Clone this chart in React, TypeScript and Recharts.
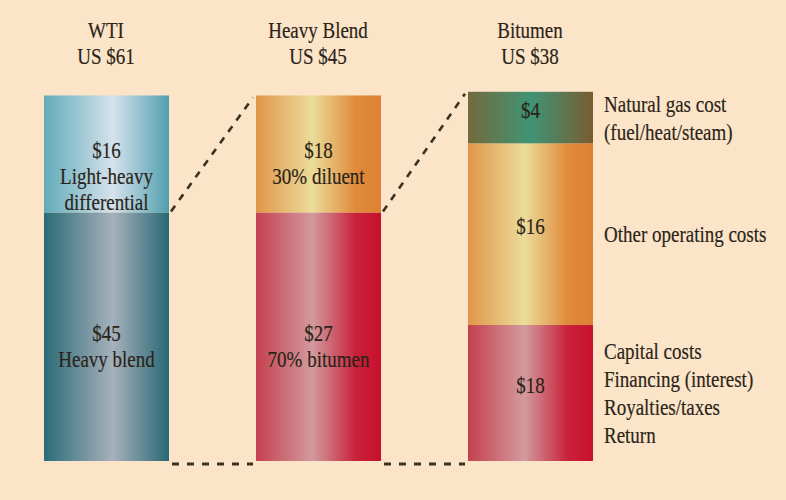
import React from "react";
import { BarChart, Bar, XAxis, YAxis } from "recharts";

// ---- data ----
const categories = ["WTI", "Heavy Blend", "Bitumen"];
const prices = ["US $61", "US $45", "US $38"];

// dollar values shown in each segment
const bottomValues = [45, 27, 18];
const middleValues = [16, 18, 16];
const topValues = [0, 0, 4];

// drawn height of each segment (share of a full bar)
const bottomShare = [68, 68, 37.2];
const middleShare = [32, 32, 49.7];
const topShare = [0, 0, 14.1];

// text inside the segments
const bottomNotes = [["Heavy blend"], ["70% bitumen"], []];
const middleNotes = [["Light-heavy", "differential"], ["30% diluent"], []];
const topNotes = [[], [], []];

// text to the right of the segments
const bottomSide = [[], [], ["Capital costs", "Financing (interest)", "Royalties/taxes", "Return"]];
const middleSide = [[], [], ["Other operating costs"]];
const topSide = [[], [], ["Natural gas cost", "(fuel/heat/steam)"]];

// ---- styles ----
const bottomFills = ["url(#gTealDark)", "url(#gRed)", "url(#gRed)"];
const middleFills = ["url(#gTealLight)", "url(#gOrange)", "url(#gOrange)"];
const topFills = ["url(#gGreen)", "url(#gGreen)", "url(#gGreen)"];

const FONT = "'Liberation Serif', 'Times New Roman', serif";
const INK = "#2a2318";
const BG = "#fbe4c7";
const DASH = "#3a3325";

const rows = categories.map((name, i) => ({
  name,
  price: prices[i],
  bottom: bottomShare[i],
  middle: middleShare[i],
  top: topShare[i],
}));

const store: Record<string, { x: number; y: number; width: number; height: number }> = {};

function T(props: { x: number; y: number; anchor?: string; children: React.ReactNode }) {
  return (
    <text
      x={0}
      y={0}
      transform={`translate(${props.x},${props.y}) scale(1,1.18)`}
      textAnchor={props.anchor || "middle"}
      fontFamily={FONT}
      fontSize={19}
      fill={INK}
      stroke={INK}
      strokeWidth={0.15}
    >
      {props.children}
    </text>
  );
}

function makeShape(
  level: "bottom" | "middle" | "top",
  fills: string[],
  values: number[],
  notes: string[][],
  side: string[][]
) {
  return (props: any) => {
    const { x, y, width, height, index, payload } = props;
    if (!height || height <= 0) return <g />;
    const geom = { x, y, width, height };
    store[`${level}-${index}`] = geom;
    const isUpper =
      level === "top" || (level === "middle" && !(payload && payload.top > 0));
    const parts: React.ReactNode[] = [];
    parts.push(
      <rect key="r" x={x} y={y} width={width} height={height} fill={fills[index]} />
    );
    // connectors
    if (isUpper) {
      store[`upper-${index}`] = geom;
      const prev = store[`upper-${index - 1}`];
      if (index > 0 && prev) {
        parts.push(
          <line
            key="c1"
            x1={prev.x + prev.width + 2}
            y1={prev.y + prev.height - 1}
            x2={x - 3}
            y2={y + 2}
            stroke={DASH}
            strokeWidth={2.6}
            strokeDasharray="7 7"
          />
        );
      }
    }
    if (level === "bottom" && index > 0) {
      const prev = store[`bottom-${index - 1}`];
      if (prev) {
        parts.push(
          <line
            key="c2"
            x1={prev.x + prev.width + 3}
            y1={prev.y + prev.height + 3}
            x2={x - 3}
            y2={y + height + 3}
            stroke={DASH}
            strokeWidth={3}
            strokeDasharray="7 8"
          />
        );
      }
    }
    // labels inside
    const cx = x + width / 2;
    const cy = y + height / 2;
    const inner = [`$${values[index]}`, ...(notes[index] || [])];
    const first = cy + (inner.length > 1 ? 4 : 0);
    inner.forEach((t, k) => {
      parts.push(
        <T key={`i${k}`} x={cx} y={first + k * 26}>
          {t}
        </T>
      );
    });
    // labels to the right
    const s = side[index] || [];
    const sFirst = cy - ((s.length - 1) * 28) / 2 + 8;
    s.forEach((t, k) => {
      parts.push(
        <T key={`s${k}`} x={x + width + 11} y={sFirst + k * 28} anchor="start">
          {t}
        </T>
      );
    });
    return <g>{parts}</g>;
  };
}

function TitleTick(props: any) {
  const { x, y, payload, index } = props;
  const i = typeof index === "number" ? index : categories.indexOf(payload.value);
  return (
    <g>
      <T x={x} y={y - 46}>
        {payload.value}
      </T>
      <T x={x} y={y - 20}>
        {prices[i]}
      </T>
    </g>
  );
}

export default function App() {
  return (
    <div style={{ position: "absolute", left: 0, top: 0, width: 786, height: 500, background: BG }}>
      <BarChart
        width={786}
        height={500}
        data={rows}
        margin={{ top: 31.8, right: 150, bottom: 39, left: 0 }}
        barCategoryGap={0}
      >
        <defs>
          <linearGradient id="gTealLight" x1="0" y1="0" x2="1" y2="0">
            <stop offset="0" stopColor="#62abba" />
            <stop offset="0.55" stopColor="#d5e2ec" />
            <stop offset="1" stopColor="#529fae" />
          </linearGradient>
          <linearGradient id="gTealDark" x1="0" y1="0" x2="1" y2="0">
            <stop offset="0" stopColor="#2b6b78" />
            <stop offset="0.55" stopColor="#a6b1bb" />
            <stop offset="1" stopColor="#286875" />
          </linearGradient>
          <linearGradient id="gOrange" x1="0" y1="0" x2="1" y2="0">
            <stop offset="0" stopColor="#e0964a" />
            <stop offset="0.45" stopColor="#ebdc9a" />
            <stop offset="0.8" stopColor="#e08a3a" />
            <stop offset="1" stopColor="#dd8234" />
          </linearGradient>
          <linearGradient id="gRed" x1="0" y1="0" x2="1" y2="0">
            <stop offset="0" stopColor="#c5404f" />
            <stop offset="0.45" stopColor="#d29a9d" />
            <stop offset="0.8" stopColor="#c8213a" />
            <stop offset="1" stopColor="#c8102e" />
          </linearGradient>
          <linearGradient id="gGreen" x1="0" y1="0" x2="1" y2="0">
            <stop offset="0" stopColor="#736a3c" />
            <stop offset="0.5" stopColor="#3f9476" />
            <stop offset="1" stopColor="#7a5c30" />
          </linearGradient>
        </defs>
        <XAxis
          dataKey="name"
          orientation="top"
          height={60}
          axisLine={false}
          tickLine={false}
          tick={<TitleTick />}
          interval={0}
        />
        <YAxis hide domain={[0, 101]} />
        <Bar
          dataKey="bottom"
          stackId="s"
          barSize={125}
          isAnimationActive={false}
          shape={makeShape("bottom", bottomFills, bottomValues, bottomNotes, bottomSide)}
        />
        <Bar
          dataKey="middle"
          stackId="s"
          barSize={125}
          isAnimationActive={false}
          shape={makeShape("middle", middleFills, middleValues, middleNotes, middleSide)}
        />
        <Bar
          dataKey="top"
          stackId="s"
          barSize={125}
          isAnimationActive={false}
          shape={makeShape("top", topFills, topValues, topNotes, topSide)}
        />
      </BarChart>
    </div>
  );
}
